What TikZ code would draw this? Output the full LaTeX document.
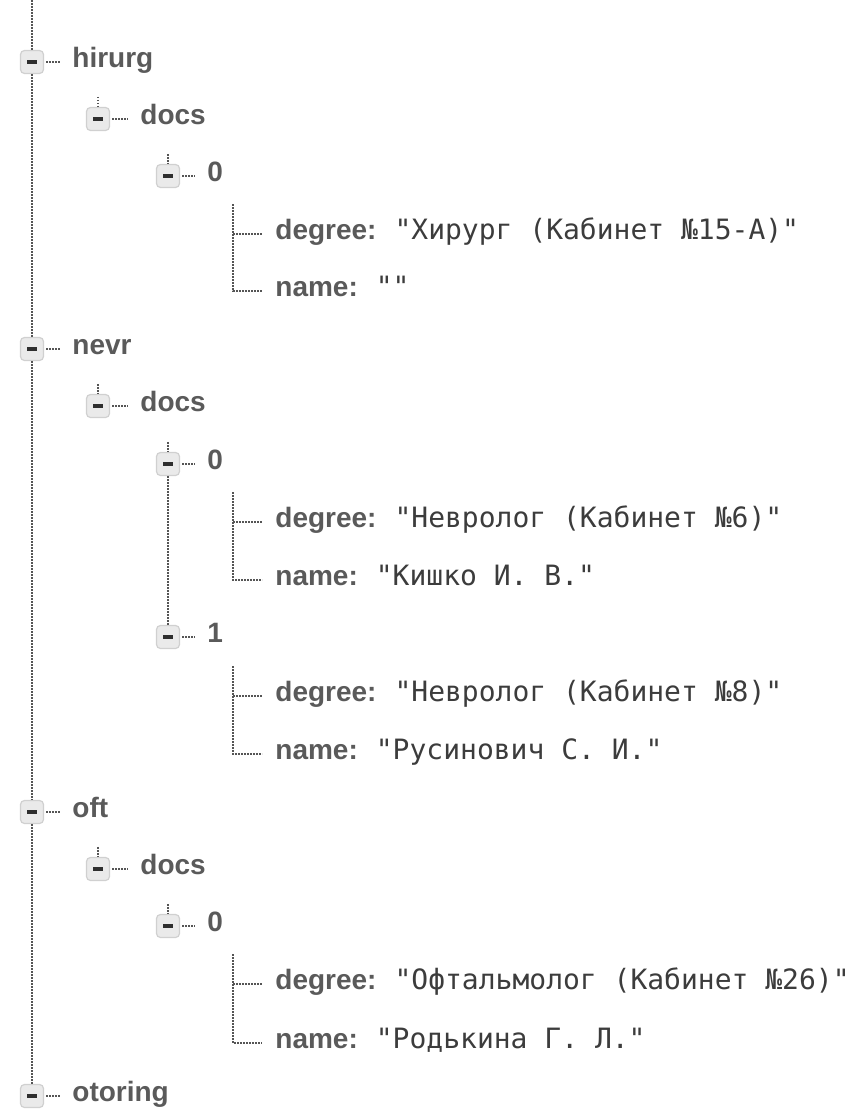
\documentclass[tikz,border=0pt]{standalone}
\usepackage{fontspec}
\setmainfont{Liberation Sans}
\newfontfamily\monofam{DejaVu Sans Mono}
\usepackage{xcolor}
\usetikzlibrary{positioning}
\definecolor{keygray}{HTML}{5A5A5A}
\definecolor{valgray}{HTML}{3C3C3C}
\definecolor{boxfill}{HTML}{EAEAEA}
\definecolor{boxline}{HTML}{D0D0D0}
\definecolor{bargray}{HTML}{2E2E2E}
\definecolor{linegray}{HTML}{555555}
\newcommand{\togglebar}{{\color{bargray}\rule{5pt}{1.8pt}}}
\newcommand{\val}[1]{\hspace{9pt}{\monofam\mdseries\fontsize{14}{16}\selectfont\color{valgray}#1}}
\tikzset{
  box node/.style={rectangle,draw=boxline,fill=boxfill,rounded corners=2pt,minimum size=11.5pt,inner sep=0pt,line width=0.6pt},
  key node/.style={anchor=mid west,inner sep=0pt,text=keygray,font=\fontsize{14}{16}\selectfont\bfseries},
  link/.style={draw=linegray,line width=0.7pt,dash pattern=on 0.8pt off 0.7pt},
  tick/.style={link,shorten <=1pt,shorten >=6pt}
}
\begin{document}
\begin{tikzpicture}[x=0.5pt,y=-0.5pt]
  \useasboundingbox (0,0) rectangle (856,1113);
  \coordinate (top) at (32,0);
  % hirurg
  \node [box node] (b0) at (32,62) {\togglebar};
  \node [key node] (k0) at (72,62) {hirurg};
  \node [box node] (b1) at (98,119) {\togglebar};
  \node [key node] (k1) at (140,119) {docs};
  \node [box node] (b2) at (168,176) {\togglebar};
  \node [key node] (k2) at (207,176) {0};
  \node [key node] (k3) at (275,234) {degree:\val{"Хирург (Кабинет №15-А)"}};
  \node [key node] (k4) at (275,291) {name:\val{""}};
  % nevr
  \node [box node] (b5) at (32,349) {\togglebar};
  \node [key node] (k5) at (72,349) {nevr};
  \node [box node] (b6) at (98,406) {\togglebar};
  \node [key node] (k6) at (140,406) {docs};
  \node [box node] (b7) at (168,464) {\togglebar};
  \node [key node] (k7) at (207,464) {0};
  \node [key node] (k8) at (275,522) {degree:\val{"Невролог (Кабинет №6)"}};
  \node [key node] (k9) at (275,580) {name:\val{"Кишко И. В."}};
  \node [box node] (b10) at (168,637) {\togglebar};
  \node [key node] (k10) at (207,637) {1};
  \node [key node] (k11) at (275,696) {degree:\val{"Невролог (Кабинет №8)"}};
  \node [key node] (k12) at (275,754) {name:\val{"Русинович С. И."}};
  % oft
  \node [box node] (b13) at (32,812) {\togglebar};
  \node [key node] (k13) at (72,812) {oft};
  \node [box node] (b14) at (98,869) {\togglebar};
  \node [key node] (k14) at (140,869) {docs};
  \node [box node] (b15) at (168,926) {\togglebar};
  \node [key node] (k15) at (207,926) {0};
  \node [key node] (k16) at (275,984) {degree:\val{"Офтальмолог (Кабинет №26)"}};
  \node [key node] (k17) at (275,1043) {name:\val{"Родькина Г. Л."}};
  % otoring
  \node [box node] (b18) at (32,1096) {\togglebar};
  \node [key node] (k18) at (72,1096) {otoring};

  % main line
  \draw [link] (top) -- (b0.north);
  \draw [link] (b0.south) -- (b5.north);
  \draw [link] (b5.south) -- (b13.north);
  \draw [link] (b13.south) -- (b18.north);
  % stubs
  \draw [link] ([yshift=5pt]b1.north) -- (b1.north);
  \draw [link] ([yshift=5pt]b2.north) -- (b2.north);
  \draw [link] ([yshift=5pt]b6.north) -- (b6.north);
  \draw [link] ([yshift=5pt]b7.north) -- (b7.north);
  \draw [link] (b7.south) -- (b10.north);
  \draw [link] ([yshift=5pt]b14.north) -- (b14.north);
  \draw [link] ([yshift=5pt]b15.north) -- (b15.north);
  % box to key
  \draw [tick] (b0.east) -- (k0.mid west);
  \draw [tick] (b1.east) -- (k1.mid west);
  \draw [tick] (b2.east) -- (k2.mid west);
  \draw [tick] (b5.east) -- (k5.mid west);
  \draw [tick] (b6.east) -- (k6.mid west);
  \draw [tick] (b7.east) -- (k7.mid west);
  \draw [tick] (b10.east) -- (k10.mid west);
  \draw [tick] (b13.east) -- (k13.mid west);
  \draw [tick] (b14.east) -- (k14.mid west);
  \draw [tick] (b15.east) -- (k15.mid west);
  \draw [tick] (b18.east) -- (k18.mid west);
  % leaves
  \draw [link,shorten >=6.5pt] ([xshift=-21pt,yshift=15pt]k3.mid west) |- (k4.mid west);
  \draw [link,shorten >=6.5pt] ([xshift=-21pt]k3.mid west) -- (k3.mid west);
  \draw [link,shorten >=6.5pt] ([xshift=-21pt,yshift=15pt]k8.mid west) |- (k9.mid west);
  \draw [link,shorten >=6.5pt] ([xshift=-21pt]k8.mid west) -- (k8.mid west);
  \draw [link,shorten >=6.5pt] ([xshift=-21pt,yshift=15pt]k11.mid west) |- (k12.mid west);
  \draw [link,shorten >=6.5pt] ([xshift=-21pt]k11.mid west) -- (k11.mid west);
  \draw [link,shorten >=6.5pt] ([xshift=-21pt,yshift=15pt]k16.mid west) |- (k17.mid west);
  \draw [link,shorten >=6.5pt] ([xshift=-21pt]k16.mid west) -- (k16.mid west);
\end{tikzpicture}
\end{document}
